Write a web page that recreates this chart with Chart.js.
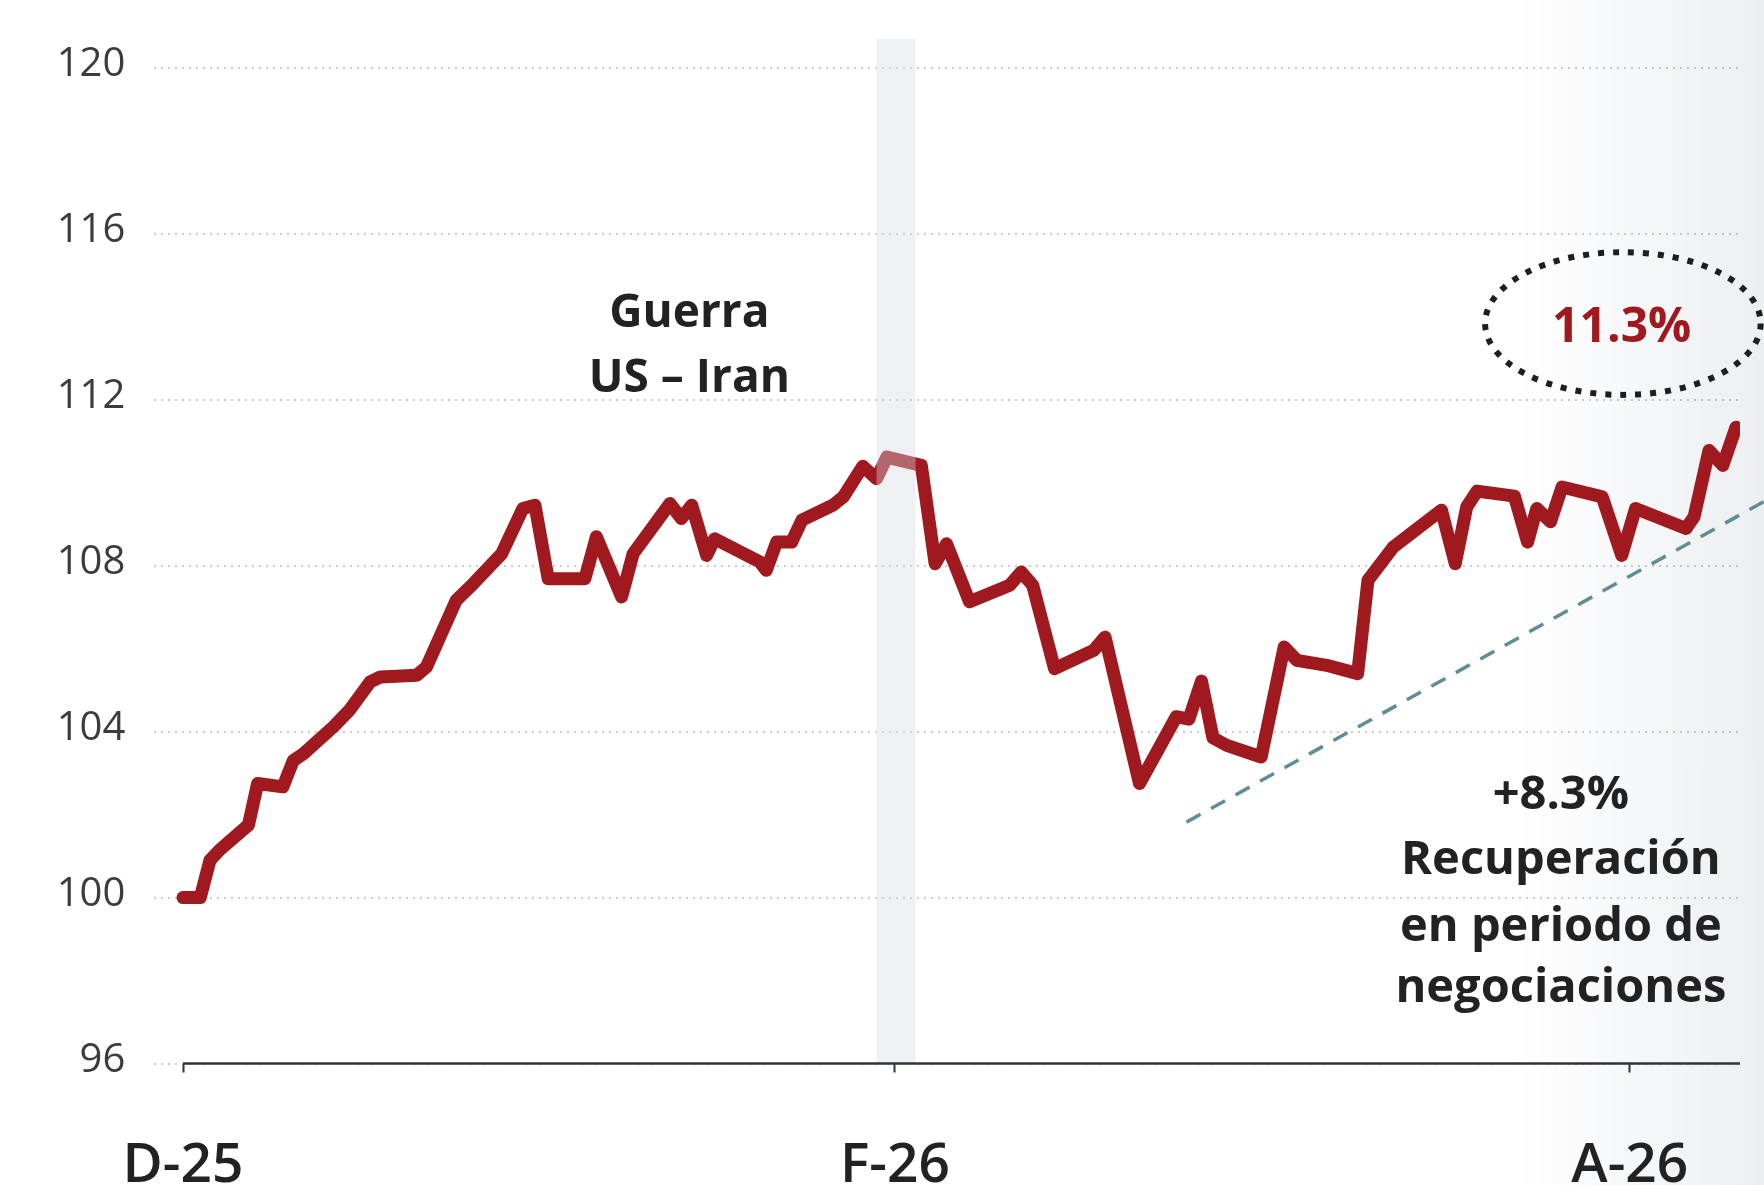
<!DOCTYPE html>
<html lang="es">
<head>
<meta charset="utf-8">
<title>Guerra US – Iran</title>
<script src="https://cdn.jsdelivr.net/npm/chart.js@4.4.1/dist/chart.umd.min.js"></script>
<style>
  html, body { margin: 0; padding: 0; }
  body {
    width: 1764px; height: 1185px; overflow: hidden;
    background: linear-gradient(to right, #ffffff 0%, #ffffff 86%, #eceef1 100%);
  }
  #wrap { position: relative; width: 1764px; height: 1185px; }
</style>
</head>
<body>
<div id="wrap"><canvas id="grafico" width="1764" height="1185"></canvas></div>
<script>
// Dias desde el inicio (D-25 = 0) y valor del indice (base 100)
const dias = [
  0, 1.5, 2.35, 3.2, 5.7, 6.5, 8.7, 9.6, 10.5, 13.1,
  14.5, 16.3, 17.2, 20.35, 21.2, 23.8, 25.0, 27.75, 29.6, 30.65,
  31.8, 35.0, 36.0, 38.2, 39.2, 42.4, 43.4, 44.3, 45.6, 46.3,
  50.25, 50.8, 51.7, 53.0, 53.9, 56.6, 57.5, 59.2, 60.4, 61.3,
  64.3, 65.5, 66.5, 68.5, 72.0, 73.0, 74.0, 75.9, 79.3, 80.3,
  83.3, 86.5, 87.6, 88.7, 89.7, 90.9, 93.9, 95.9, 97.0, 99.6,
  102.3, 103.2, 105.4, 109.6, 110.8, 111.8, 112.7, 115.95, 117.1, 117.9,
  119.1, 120.1, 123.6, 125.3, 126.5, 130.9, 131.6, 132.9, 134.1, 135.25
];
const valores = [
  100.0, 100.0, 100.9, 101.15, 101.75, 102.75, 102.67, 103.3, 103.47, 104.12,
  104.52, 105.2, 105.32, 105.36, 105.56, 107.17, 107.49, 108.29, 109.38, 109.46,
  107.69, 107.69, 108.7, 107.25, 108.29, 109.5, 109.14, 109.46, 108.25, 108.65,
  108.09, 107.89, 108.57, 108.57, 109.1, 109.46, 109.66, 110.4, 110.1, 110.62,
  110.42, 108.05, 108.53, 107.13, 107.53, 107.85, 107.53, 105.52, 105.96, 106.28,
  102.75, 104.36, 104.3, 105.22, 103.85, 103.67, 103.39, 106.04, 105.72, 105.6,
  105.4, 107.65, 108.45, 109.34, 108.05, 109.42, 109.8, 109.68, 108.57, 109.38,
  109.06, 109.9, 109.66, 108.25, 109.38, 108.9, 109.18, 110.78, 110.42, 111.34
];

// Linea de tendencia (periodo de negociaciones)
const tendenciaDias = [87.4, 137.7];
const tendenciaValores = [101.82, 109.55];

// Ejes
const ticksX = [0, 62, 126];
const etiquetasX = ['D-25', 'F-26', 'A-26'];
const ticksY = [96, 100, 104, 108, 112, 116, 120];

// Franja de inicio de la guerra (en dias)
const bandaGuerra = [60.4, 63.8];

const ROJO = '#a0191f';
const FUENTE = '"Open Sans", "Noto Sans", sans-serif';

// Franja gris semitransparente por encima de la linea
const bandaPlugin = {
  id: 'banda',
  afterDatasetsDraw(chart) {
    const { ctx, chartArea, scales: { x, y } } = chart;
    const x0 = x.getPixelForValue(bandaGuerra[0]);
    const x1 = x.getPixelForValue(bandaGuerra[1]);
    const yb = y.getPixelForValue(96);
    ctx.save();
    ctx.fillStyle = 'rgba(213, 218, 226, 0.4)';
    ctx.fillRect(x0, chartArea.top, x1 - x0, yb - chartArea.top);
    ctx.restore();
  }
};

// Linea base del eje X, empieza en D-25
const ejePlugin = {
  id: 'eje',
  afterDatasetsDraw(chart) {
    const { ctx, chartArea, scales: { x, y } } = chart;
    const yb = y.getPixelForValue(96);
    ctx.save();
    ctx.strokeStyle = '#333';
    ctx.lineWidth = 2.5;
    ctx.beginPath();
    ctx.moveTo(x.getPixelForValue(0), yb);
    ctx.lineTo(chartArea.right, yb);
    ctx.stroke();
    ctx.restore();
  }
};

// Textos y elipse punteada
const notasPlugin = {
  id: 'notas',
  afterDraw(chart) {
    const { ctx, scales: { x, y } } = chart;
    ctx.save();
    ctx.textAlign = 'center';
    ctx.textBaseline = 'alphabetic';
    ctx.fillStyle = '#222';
    ctx.font = `700 46px ${FUENTE}`;

    const gx = x.getPixelForValue(44.1);
    ctx.fillText('Guerra', gx, y.getPixelForValue(113.76));
    ctx.fillText('US – Iran', gx, y.getPixelForValue(112.19));

    ctx.font = `700 47px ${FUENTE}`;
    const rx = x.getPixelForValue(120.0);
    const lineas = ['+8.3%', 'Recuperación', 'en periodo de', 'negociaciones'];
    const bases = [102.14, 100.57, 98.95, 97.48];
    lineas.forEach((t, i) => ctx.fillText(t, rx, y.getPixelForValue(bases[i])));

    // Elipse punteada con el 11.3%
    const cx = x.getPixelForValue(125.4);
    const cy = y.getPixelForValue(113.84);
    const erx = x.getPixelForValue(125.4 + 12.0) - cx;
    const ery = cy - y.getPixelForValue(113.84 + 1.72);
    ctx.strokeStyle = '#1e1e1e';
    ctx.lineWidth = 6;
    ctx.setLineDash([6, 9]);
    ctx.beginPath();
    ctx.ellipse(cx, cy, erx, ery, 0, 0, Math.PI * 2);
    ctx.stroke();
    ctx.setLineDash([]);

    ctx.fillStyle = ROJO;
    ctx.font = `700 48px ${FUENTE}`;
    ctx.fillText('11.3%', x.getPixelForValue(125.3), y.getPixelForValue(113.4));
    ctx.restore();
  }
};

const ctx = document.getElementById('grafico').getContext('2d');
new Chart(ctx, {
  type: 'line',
  data: {
    datasets: [
      {
        label: 'Indice',
        data: dias.map((d, i) => ({ x: d, y: valores[i] })),
        borderColor: ROJO,
        borderWidth: 13,
        borderJoinStyle: 'round',
        borderCapStyle: 'round',
        pointRadius: 0,
        tension: 0,
        fill: false,
        order: 1
      },
      {
        label: 'Tendencia',
        data: tendenciaDias.map((d, i) => ({ x: d, y: tendenciaValores[i] })),
        borderColor: '#5f8c96',
        borderWidth: 3.5,
        borderDash: [16, 12],
        pointRadius: 0,
        fill: false,
        clip: false,
        order: 2
      }
    ]
  },
  options: {
    responsive: false,
    animation: false,
    devicePixelRatio: 1,
    layout: { padding: { top: 39, right: 24, left: 0, bottom: 0 } },
    plugins: {
      legend: { display: false },
      tooltip: { enabled: false }
    },
    scales: {
      x: {
        type: 'linear',
        min: -2.5,
        max: 135.6,
        afterBuildTicks: (scale) => { scale.ticks = ticksX.map(v => ({ value: v })); },
        afterFit: (scale) => {
          scale.height = 121.5;
          scale.paddingLeft = 0;
          scale.paddingRight = 0;
        },
        grid: {
          display: true,
          drawOnChartArea: false,
          drawTicks: true,
          tickLength: 9,
          tickColor: '#333',
          tickWidth: 2
        },
        border: { display: false },
        ticks: {
          autoSkip: false,
          maxRotation: 0,
          padding: 61,
          color: '#222',
          font: { family: FUENTE, size: 55, weight: '600' },
          callback: (v) => etiquetasX[ticksX.indexOf(v)] ?? ''
        }
      },
      y: {
        min: 96,
        max: 120.7,
        afterBuildTicks: (scale) => { scale.ticks = ticksY.map(v => ({ value: v })); },
        afterFit: (scale) => {
          scale.width = 154.3;
          scale.paddingTop = 0;
          scale.paddingBottom = 0;
        },
        grid: {
          color: 'rgba(0, 0, 0, 0.2)',
          lineWidth: 2,
          drawTicks: false
        },
        border: { display: false, dash: [2, 5] },
        ticks: {
          autoSkip: false,
          padding: 29,
          labelOffset: -3,
          color: '#3c3c3c',
          font: { family: FUENTE, size: 40, weight: '400' },
          callback: (v) => String(v)
        }
      }
    }
  },
  plugins: [bandaPlugin, ejePlugin, notasPlugin]
});
</script>
</body>
</html>
